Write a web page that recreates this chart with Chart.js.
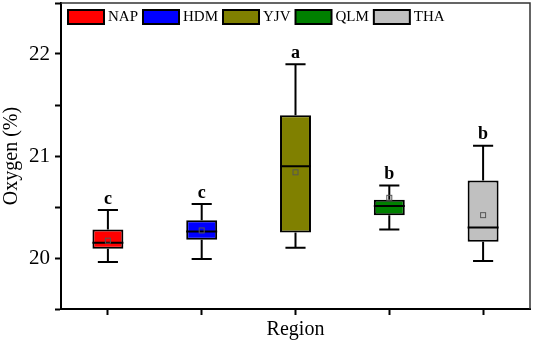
<!DOCTYPE html>
<html>
<head>
<meta charset="utf-8">
<script src="https://cdn.jsdelivr.net/npm/chart.js@4.4.1/dist/chart.umd.min.js"></script>
<style>
  html, body { margin: 0; padding: 0; background: #fff; }
  #wrap { width: 533px; height: 342px; }
</style>
</head>
<body>
<div id="wrap"><canvas id="myChart"></canvas></div>
<script>
// box plot values
const regions = ["NAP", "HDM", "YJV", "QLM", "THA"];
const whiskerLow = [19.96, 19.99, 20.1, 20.28, 19.97];
const q1 = [20.09, 20.18, 20.25, 20.42, 20.16];
const median = [20.15, 20.26, 20.9, 20.51, 20.3];
const q3 = [20.28, 20.37, 21.4, 20.57, 20.76];
const whiskerHigh = [20.47, 20.53, 21.9, 20.71, 21.1];
const means = [20.17, 20.27, 20.84, 20.59, 20.42];
const letters = ["c", "c", "a", "b", "b"];
const colors = ["#ff0000", "#0000ff", "#808000", "#008000", "#c0c0c0"];

const serif = '"Liberation Serif", "Times New Roman", serif';

// one dataset per region so each gets its own legend entry
const datasets = regions.map((name, i) => ({
  label: name,
  data: regions.map((_, j) => (j === i ? [q1[i], q3[i]] : null)),
  backgroundColor: colors[i],
  borderColor: "#000",
  borderWidth: 2,
  borderSkipped: false,
  barPercentage: 0.33,
  categoryPercentage: 1,
}));

// whiskers, medians, means, letters, frame and legend
const boxExtras = {
  id: "boxExtras",
  afterDatasetsDraw(chart) {
    const ctx = chart.ctx;
    const x = chart.scales.x;
    const y = chart.scales.y;
    const area = chart.chartArea;
    ctx.save();
    regions.forEach((r, i) => {
      const bar = chart.getDatasetMeta(i).data[i];
      const cx = x.getPixelForValue(i);
      const half = bar.width / 2;
      const cap = half * 0.65;
      ctx.strokeStyle = "#000";
      ctx.lineWidth = 2;
      ctx.beginPath();
      ctx.moveTo(cx, y.getPixelForValue(q3[i]));
      ctx.lineTo(cx, y.getPixelForValue(whiskerHigh[i]));
      ctx.moveTo(cx, y.getPixelForValue(q1[i]));
      ctx.lineTo(cx, y.getPixelForValue(whiskerLow[i]));
      ctx.moveTo(cx - cap, y.getPixelForValue(whiskerHigh[i]));
      ctx.lineTo(cx + cap, y.getPixelForValue(whiskerHigh[i]));
      ctx.moveTo(cx - cap, y.getPixelForValue(whiskerLow[i]));
      ctx.lineTo(cx + cap, y.getPixelForValue(whiskerLow[i]));
      ctx.moveTo(cx - half, y.getPixelForValue(median[i]));
      ctx.lineTo(cx + half, y.getPixelForValue(median[i]));
      ctx.stroke();

      // mean marker
      const my = y.getPixelForValue(means[i]);
      ctx.lineWidth = 1;
      ctx.strokeStyle = "#555";
      ctx.strokeRect(cx - 2.5, my - 2.5, 5, 5);

      // significance letter
      ctx.fillStyle = "#000";
      ctx.font = "bold 18px " + serif;
      ctx.textAlign = "center";
      ctx.textBaseline = "bottom";
      ctx.fillText(letters[i], cx, y.getPixelForValue(whiskerHigh[i]) - 2);
    });

    // top and right frame
    ctx.strokeStyle = "#333";
    ctx.lineWidth = 1.5;
    ctx.beginPath();
    ctx.moveTo(area.left, area.top);
    ctx.lineTo(area.right, area.top);
    ctx.lineTo(area.right, area.bottom);
    ctx.stroke();

    // legend inside the plot area
    let lx = area.left + 7;
    const ly = area.top + 7;
    ctx.font = "15px " + serif;
    ctx.textAlign = "left";
    ctx.textBaseline = "middle";
    chart.data.datasets.forEach((ds) => {
      ctx.fillStyle = ds.backgroundColor;
      ctx.fillRect(lx, ly, 36, 14);
      ctx.strokeStyle = "#000";
      ctx.lineWidth = 2;
      ctx.strokeRect(lx, ly, 36, 14);
      lx += 40;
      ctx.fillStyle = "#000";
      ctx.fillText(ds.label, lx, ly + 7.5);
      lx += ctx.measureText(ds.label).width + 5;
    });
    ctx.restore();
  },
};

const ctx = document.getElementById("myChart").getContext("2d");
new Chart(ctx, {
  type: "bar",
  data: { labels: regions, datasets: datasets },
  options: {
    responsive: true,
    maintainAspectRatio: false,
    animation: false,
    layout: { padding: { left: 0, right: 3, top: 3, bottom: 0 } },
    datasets: { bar: { grouped: false } },
    plugins: {
      legend: { display: false },
      tooltip: { enabled: false },
    },
    scales: {
      x: {
        ticks: { display: false },
        grid: {
          offset: false,
          drawOnChartArea: false,
          tickLength: 6,
          tickWidth: 2,
          tickColor: "#000",
        },
        border: { color: "#000", width: 2 },
        title: {
          display: true,
          text: "Region",
          color: "#000",
          font: { family: serif, size: 20 },
          padding: { top: 3, bottom: 0 },
        },
      },
      y: {
        min: 19.5,
        max: 22.5,
        afterFit: (scale) => {
          scale.paddingTop = 0;
          scale.paddingBottom = 0;
        },
        ticks: {
          stepSize: 0.5,
          padding: 5,
          color: "#000",
          font: { family: serif, size: 21 },
          callback: (v) => (Number.isInteger(v) ? String(v) : ""),
        },
        grid: {
          drawOnChartArea: false,
          tickLength: 6,
          tickWidth: 2,
          tickColor: "#000",
        },
        border: { color: "#000", width: 2 },
        title: {
          display: true,
          text: "Oxygen (%)",
          color: "#000",
          font: { family: serif, size: 20 },
          padding: { top: 0, bottom: 0 },
        },
      },
    },
  },
  plugins: [boxExtras],
});
</script>
</body>
</html>
